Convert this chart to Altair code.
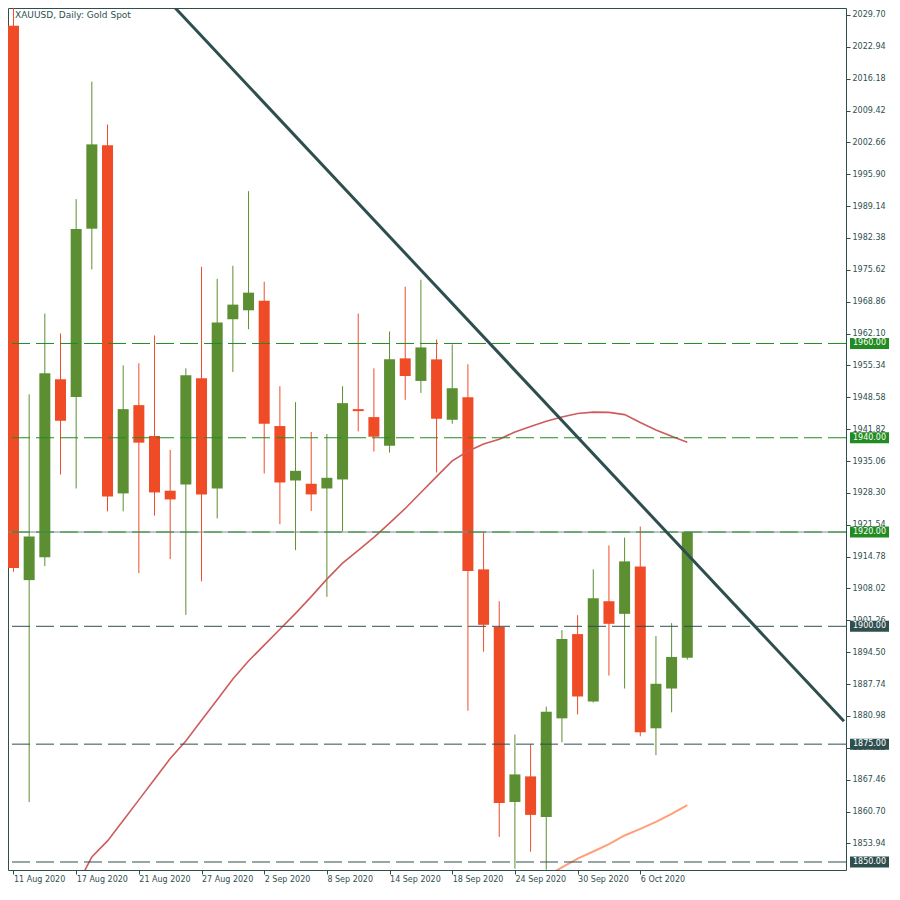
import json
import altair as alt
import pandas as pd

# ---------------- data ----------------
title_text = "XAUUSD, Daily:  Gold Spot"

date_label_bars = [0, 4, 8, 12, 16, 20, 24, 28, 32, 36, 40]
date_labels = ["11 Aug 2020", "17 Aug 2020", "21 Aug 2020", "27 Aug 2020", "2 Sep 2020",
               "8 Sep 2020", "14 Sep 2020", "18 Sep 2020", "24 Sep 2020", "30 Sep 2020",
               "6 Oct 2020"]

opens = [2027.4, 1909.8, 1914.67, 1952.41, 1948.67, 1984.35, 2002.03, 1928.19, 1946.92, 1940.37,
         1928.76, 1930.09, 1952.62, 1929.24, 1965.14, 1967.04, 1969.09, 1942.48, 1930.93, 1930.24,
         1929.24, 1931.15, 1946.07, 1944.38, 1938.32, 1956.84, 1952.05, 1956.63, 1943.81, 1948.6,
         1912.08, 1899.83, 1862.73, 1868.16, 1859.57, 1880.47, 1898.35, 1884.06, 1905.32, 1902.64,
         1912.71, 1878.36, 1886.8, 1893.35]
highs = [2031.2, 1949.2, 1966.34, 1962.12, 1990.62, 2015.54, 2006.46, 1955.36, 1955.79, 1961.7,
         1937.42, 1954.73, 1976.27, 1973.73, 1976.48, 1992.31, 1973.1, 1950.93, 1947.55, 1941.22,
         1940.79, 1950.93, 1966.34, 1954.73, 1962.54, 1972.04, 1973.52, 1960.85, 1959.8, 1955.58,
         1919.89, 1905.32, 1877.03, 1874.98, 1882.94, 1899.2, 1902.36, 1912.08, 1917.15, 1918.83,
         1921.16, 1897.93, 1900.68, 1920.0]
lows = [1911.6, 1862.7, 1912.77, 1932.2, 1929.24, 1975.7, 1924.39, 1924.39, 1911.3, 1923.5,
        1914.25, 1902.43, 1909.54, 1922.89, 1953.95, 1963.03, 1932.41, 1921.64, 1916.15, 1924.47,
        1906.23, 1920.1, 1941.36, 1937.06, 1936.85, 1948.04, 1949.51, 1932.62, 1942.97, 1882.09,
        1894.62, 1855.34, 1848.59, 1852.17, 1848.37, 1875.4, 1881.31, 1883.85, 1889.55, 1886.8,
        1876.67, 1872.66, 1881.74, 1892.93]
closes = [1912.35, 1919.05, 1953.67, 1943.6, 1984.29, 2002.24, 1927.55, 1946.07, 1938.96, 1928.4,
          1926.92, 1953.25, 1927.98, 1964.44, 1968.24, 1970.78, 1942.97, 1930.51, 1932.98, 1927.98,
          1931.5, 1947.34, 1945.65, 1940.22, 1956.63, 1953.1, 1959.16, 1944.03, 1950.51, 1911.72,
          1900.32, 1862.52, 1868.58, 1859.99, 1881.88, 1897.3, 1885.11, 1905.95, 1900.53, 1913.77,
          1877.51, 1887.8, 1893.5, 1920.0]

ma_red_start = 4
ma_red = [1844.74, 1851.06, 1854.48, 1858.78, 1863.18, 1867.55, 1871.94, 1875.68, 1880.05, 1884.42,
          1888.81, 1892.63, 1896.0, 1899.37, 1902.75, 1906.29, 1910.0, 1913.39, 1916.09, 1918.86,
          1921.9, 1925.0, 1928.38, 1931.76, 1935.09, 1937.14, 1938.68, 1939.7, 1941.22, 1942.4,
          1943.52, 1944.42, 1945.16, 1945.44, 1945.38, 1944.91, 1943.22, 1941.66, 1940.31, 1939.06]

ma_salmon_start = 34
ma_salmon = [1846.94, 1848.84, 1850.7, 1852.22, 1853.8, 1855.62, 1857.01, 1858.51, 1860.2, 1862.04]

trend_bars = [10, 53]
trend_prices = [2032.32, 1879.84]

green_levels = [1960.0, 1940.0, 1920.0]
dark_levels = [1900.0, 1875.0, 1850.0]
bid_price = [1920.0]

price_ticks = [1853.94, 1860.70, 1867.46, 1874.22, 1880.98, 1887.74, 1894.50, 1901.26, 1908.02,
               1914.78, 1921.54, 1928.30, 1935.06, 1941.82, 1948.58, 1955.34, 1962.10, 1968.86,
               1975.62, 1982.38, 1989.14, 1995.90, 2002.66, 2009.42, 2016.18, 2022.94, 2029.70]

# ---------------- styling ----------------
GREEN = "#5c8f31"
RED = "#f04b27"
SLATE = "#2f4f4f"
LEVEL_GREEN = "#228b22"
FONT = "DejaVu Sans"

W, H = 838, 862
x_scale = alt.Scale(domain=[-0.0315, 52.81], nice=False, zero=False)
y_scale = alt.Scale(domain=[1848.3, 2031.17], nice=False, zero=False)

label_expr = json.dumps(date_labels) + "[round(datum.value / 4)]"
x_axis = alt.Axis(values=date_label_bars, labelExpr=label_expr, title=None, grid=False,
                  domain=False, tickSize=4, tickColor=SLATE, labelColor=SLATE, labelFont=FONT,
                  labelFontSize=8, labelAlign="left", labelPadding=1, labelFlush=False,
                  labelOverlap=False)
y_axis = alt.Axis(values=price_ticks, format=".2f", orient="right", title=None, grid=False,
                  domain=False, tickSize=4, tickColor=SLATE, labelColor=SLATE, labelFont=FONT,
                  labelFontSize=8, labelPadding=2, labelOverlap=False)


def X(field):
    return alt.X(field, type="quantitative", scale=x_scale, axis=x_axis)


def Y(field):
    return alt.Y(field, type="quantitative", scale=y_scale, axis=y_axis)


candles = pd.DataFrame({"idx": list(range(len(opens))), "open": opens, "high": highs,
                        "low": lows, "close": closes})
ma_red_df = pd.DataFrame({"idx": list(range(ma_red_start, ma_red_start + len(ma_red))),
                          "price": ma_red})
ma_sal_df = pd.DataFrame({"idx": list(range(ma_salmon_start, ma_salmon_start + len(ma_salmon))),
                          "price": ma_salmon})
trend_df = pd.DataFrame({"idx": trend_bars, "price": trend_prices})
green_df = pd.DataFrame({"price": green_levels})
dark_df = pd.DataFrame({"price": dark_levels})
bid_df = pd.DataFrame({"price": bid_price})
title_df = pd.DataFrame({"t": [title_text]})

up_color = alt.condition("datum.close >= datum.open", alt.value(GREEN), alt.value(RED))

wicks = alt.Chart(candles).mark_rule(strokeWidth=1, clip=True).encode(
    x=X("idx"), y=Y("low"), y2="high", color=up_color)
bodies = alt.Chart(candles).mark_bar(width=11, clip=True).encode(
    x=X("idx"), y=Y("open"), y2="close", color=up_color)

ma1 = alt.Chart(ma_red_df).mark_line(color="#cd5c5c", strokeWidth=1.6, clip=True).encode(
    x=X("idx"), y=Y("price"))
ma2 = alt.Chart(ma_sal_df).mark_line(color="#ffa07a", strokeWidth=2, clip=True).encode(
    x=X("idx"), y=Y("price"))

bid = alt.Chart(bid_df).mark_rule(color="#7f8a99", strokeWidth=1).encode(y=Y("price"))
glines = alt.Chart(green_df).mark_rule(color=LEVEL_GREEN, strokeWidth=1,
                                       strokeDash=[18, 6]).encode(y=Y("price"))
dlines = alt.Chart(dark_df).mark_rule(color=SLATE, strokeWidth=1,
                                      strokeDash=[18, 6]).encode(y=Y("price"))

trend = alt.Chart(trend_df).mark_line(color=SLATE, strokeWidth=3, clip=True).encode(
    x=X("idx"), y=Y("price"))

gtags = alt.Chart(green_df).mark_rule(color=LEVEL_GREEN, strokeWidth=11, clip=False).encode(
    x=alt.value(842), x2=alt.value(881), y=Y("price"))
dtags = alt.Chart(dark_df).mark_rule(color=SLATE, strokeWidth=11, clip=False).encode(
    x=alt.value(842), x2=alt.value(881), y=Y("price"))
tag_text_g = alt.Chart(green_df).mark_text(color="white", font=FONT, fontSize=8,
                                           align="center", baseline="middle", clip=False).encode(
    x=alt.value(861.5), y=Y("price"), text=alt.Text("price:Q", format=".2f"))
tag_text_d = alt.Chart(dark_df).mark_text(color="white", font=FONT, fontSize=8,
                                          align="center", baseline="middle", clip=False).encode(
    x=alt.value(861.5), y=Y("price"), text=alt.Text("price:Q", format=".2f"))

title = alt.Chart(title_df).mark_text(color=SLATE, font=FONT, fontSize=9, align="left",
                                      baseline="top").encode(
    x=alt.value(7), y=alt.value(3), text="t:N")

chart = alt.layer(
    wicks, bodies, ma1, ma2, bid, glines, dlines, trend,
    gtags, dtags, tag_text_g, tag_text_d, title
).properties(
    width=W, height=H, background="white",
    autosize=alt.AutoSizeParams(type="none"),
    padding={"left": 0, "top": 0, "right": 46, "bottom": 15},
).configure_view(stroke=SLATE, strokeWidth=1)

chart.save("out.html", embed_options={"renderer": "svg", "actions": False})
